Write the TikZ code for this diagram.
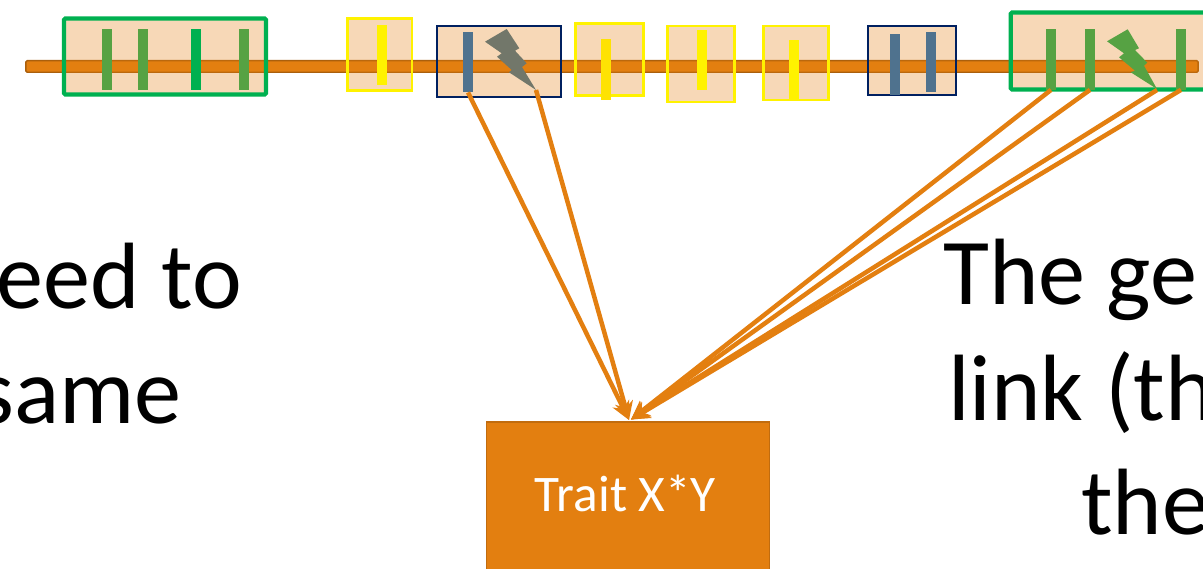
\documentclass[tikz,border=0pt]{standalone}
\usepackage{fontspec}
\setmainfont{Carlito}
\usetikzlibrary{arrows.meta}
\definecolor{traitorange}{HTML}{E37F10}
\definecolor{linkgreen}{HTML}{00B050}
\definecolor{snpgreen}{HTML}{56A243}
\definecolor{snpblue}{HTML}{4F728E}
\definecolor{snpgray}{HTML}{72776A}
\definecolor{navybox}{HTML}{002060}
\tikzset{
	block/.style={fill=traitorange,fill opacity=0.3,inner sep=0pt,outer sep=0pt},
	greenblock/.style={block,draw=linkgreen,line width=3pt,draw opacity=1,rounded corners=1pt},
	yellowblock/.style={block,draw=yellow,line width=2pt,draw opacity=1},
	navyblock/.style={block,draw=navybox,line width=1.9pt,draw opacity=1},
	snp/.style={minimum width=0.24cm,inner sep=0pt,outer sep=0pt},
	assoc/.style={draw=traitorange,line width=3.2pt,-{Stealth[length=13pt,width=13pt]}},
	bigtext/.style={font=\fontsize{67}{67}\selectfont,inner sep=0pt},
}
\begin{document}
\begin{tikzpicture}[x=0.025cm,y=-0.025cm]
	\clip (0,0) rectangle (1203,569);
	\useasboundingbox (0,0) rectangle (1203,569);
	% chromosome
	\node[draw=traitorange!75!black,fill=traitorange,line width=1pt,minimum width=29.3cm,minimum height=0.29cm,inner sep=0pt,rounded corners=1pt] (chrom) at (612,66.5) {};

	\node[greenblock,minimum width=5.05cm,minimum height=1.9cm] (g1) at (165,56.5) {};
	\node[yellowblock,minimum width=1.62cm,minimum height=1.78cm] (y1) at (379.5,54.5) {};
	\node[navyblock,minimum width=3.1cm,minimum height=1.78cm] (n1) at (499,61.5) {};
	\node[yellowblock,minimum width=1.68cm,minimum height=1.78cm] (y2) at (609.5,59.5) {};
	\node[yellowblock,minimum width=1.66cm,minimum height=1.9cm] (y3) at (701,64) {};
	\node[yellowblock,minimum width=1.62cm,minimum height=1.85cm] (y4) at (796,63) {};
	\node[navyblock,minimum width=2.2cm,minimum height=1.73cm] (n2) at (912,60.5) {};
	\node[greenblock,minimum width=5.2cm,minimum height=1.925cm] (g2) at (1114.7,51) {};

	\node[snp,fill=snpgreen,minimum height=1.52cm] (a1) at (107,59.5) {};
	\node[snp,fill=snpgreen,minimum height=1.52cm] (a2) at (143,59.5) {};
	\node[snp,fill=linkgreen,minimum height=1.52cm] (a3) at (196,59.5) {};
	\node[snp,fill=snpgreen,minimum height=1.52cm] (a4) at (244,59.5) {};
	\node[snp,fill=yellow,minimum height=1.52cm] (b1) at (382,55) {};
	\node[snp,fill=snpblue,minimum height=1.52cm] (c1) at (468,62) {};
	\node[snp,fill=yellow!85!orange,minimum height=1.52cm] (d1) at (606,69.5) {};
	\node[snp,fill=yellow,minimum height=1.52cm] (e1) at (702,60) {};
	\node[snp,fill=yellow,minimum height=1.52cm] (f1) at (794,70) {};
	\node[snp,fill=snpblue,minimum height=1.52cm] (h1) at (895,64.5) {};
	\node[snp,fill=snpblue,minimum height=1.52cm] (h2) at (931,62) {};
	\node[snp,fill=snpgreen,minimum height=1.52cm] (k1) at (1051,59.5) {};
	\node[snp,fill=snpgreen,minimum height=1.52cm] (k2) at (1090,59.5) {};
	\node[snp,fill=snpgreen,minimum height=1.52cm] (k3) at (1181,59.5) {};

	% lightning
	\fill[snpgray] (506.7,29) -- (485,41.7) -- (501.7,53.3) -- (497,56.7) -- (511.7,70) -- (509,72.3) -- (536,90) -- (522,67) -- (526.7,63.3) -- (515,50.7) -- (519.3,48.3) -- cycle;
	\fill[snpgreen] (1127.7,29.3) -- (1107,41.3) -- (1124,53.3) -- (1119,57.3) -- (1135,70.7) -- (1130.7,72.3) -- (1157,89) -- (1144,65.7) -- (1147.3,62.7) -- (1135,50) -- (1139,48.3) -- cycle;
	\coordinate (bolt1) at (536,90);
	\coordinate (bolt2) at (1157,90);

	\node[fill=traitorange,draw=traitorange!85!black,line width=0.8pt,minimum width=7.06cm,minimum height=4cm,inner sep=0pt] (trait) at (628,502) {};
	\node[text=white,font=\fontsize{36.5}{36.5}\selectfont,inner sep=0pt,anchor=base] (traitlabel) at (625.5,511.7) {Trait X*Y};
	\coordinate (tipl) at (629,420);
	\coordinate (tipr) at (631,419.5);

	\draw[assoc] (c1.south) -- (tipl);
	\draw[assoc] (bolt1) -- (tipl);
	\draw[assoc] (k1.south) -- (tipr);
	\draw[assoc] (k2.south) -- (tipr);
	\draw[assoc] (bolt2) -- (tipr);
	\draw[assoc] (k3.south) -- (tipr);

	\node[bigtext,anchor=base east] (left1) at (242,309) {eed to};
	\node[bigtext,anchor=base east] (left2) at (182,424) {same};
	\node[bigtext,anchor=base west] (right1) at (943,305) {The ge};
	\node[bigtext,anchor=base west] (right2) at (948,421) {link (th};
	\node[bigtext,anchor=base west] (right3) at (1081,535) {the};
\end{tikzpicture}
\end{document}
